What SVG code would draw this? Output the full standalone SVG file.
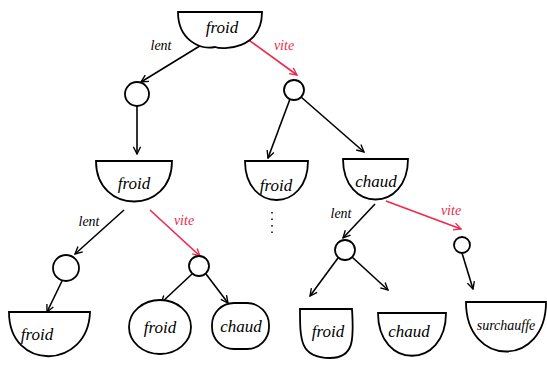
<svg xmlns="http://www.w3.org/2000/svg" width="547" height="366" viewBox="0 0 547 366">
<defs>
<marker id="ab" viewBox="0 0 10 10" refX="9" refY="5" markerWidth="9" markerHeight="9" markerUnits="userSpaceOnUse" orient="auto">
<path d="M1,1 L9,5 L1,9" fill="none" stroke="#000" stroke-width="1.5"/>
</marker>
<marker id="ar" viewBox="0 0 10 10" refX="9" refY="5" markerWidth="9" markerHeight="9" markerUnits="userSpaceOnUse" orient="auto">
<path d="M1,1 L9,5 L1,9" fill="none" stroke="#f0284a" stroke-width="1.5"/>
</marker>
</defs>
<style>
.n{fill:#fff;stroke:#000;stroke-width:1.8}
.t{font-family:"Liberation Serif",serif;font-style:italic;font-size:17px;fill:#000;text-anchor:middle}
.l{font-family:"Liberation Serif",serif;font-style:italic;font-size:14px;fill:#000;text-anchor:middle}
.lr{font-family:"Liberation Serif",serif;font-style:italic;font-size:14px;fill:#f0284a;text-anchor:middle}
.e{fill:none;stroke:#000;stroke-width:1.6;marker-end:url(#ab)}
.er{fill:none;stroke:#f0284a;stroke-width:1.6;marker-end:url(#ar)}
</style>
<rect width="547" height="366" fill="#fff"/>
<g id="connectors">
<path class="e" d="M203,44 L141,82"/>
<path class="er" d="M246,38 L297,75"/>
<path class="e" d="M137,106 L137,154"/>
<path class="e" d="M290,99 L268,158"/>
<path class="e" d="M301,97 L364,152"/>
<path class="e" d="M124,210 L75,254"/>
<path class="er" d="M150,210 L200,256"/>
<path class="e" d="M375,204 L343,238"/>
<path class="er" d="M386,201 L461,229"/>
<path class="e" d="M62,281 L47,312"/>
<path class="e" d="M192,274 L161,303"/>
<path class="e" d="M206,274 L228,303"/>
<path class="e" d="M338,258 L310,296"/>
<path class="e" d="M352,257 L388,290"/>
<path class="e" d="M462,253 L473,289"/>
<path d="M272,212 V235" stroke="#000" stroke-width="1.5" stroke-dasharray="1.5,5" fill="none"/>
</g>
<g id="lbl">
<text class="l" x="161" y="50">lent</text>
<text class="lr" x="284" y="50">vite</text>
<text class="l" x="89" y="226">lent</text>
<text class="lr" x="184" y="225">vite</text>
<text class="l" x="341" y="218">lent</text>
<text class="lr" x="451" y="215">vite</text>
</g>
<g id="root"><path class="n" d="M178,12 H262 C262,50 222,50 215,47 C200,50 178,40 178,12 Z"/><text class="t" x="222" y="33">froid</text></g>
<g id="c1"><circle class="n" cx="137" cy="94" r="12"/></g>
<g id="c2"><circle class="n" cx="294" cy="90" r="10"/></g>
<g id="n_froid_l"><path class="n" d="M96,161 H172 C172,215 96,215 96,161 Z"/><text class="t" x="134" y="189">froid</text></g>
<g id="n_froid_m"><path class="n" d="M245,161 H308 C308,213 245,213 245,161 Z"/><text class="t" x="276" y="191">froid</text></g>
<g id="n_chaud_m"><path class="n" d="M343,159 H408 C408,213 343,213 343,159 Z"/><text class="t" x="376" y="187">chaud</text></g>
<g id="c3"><circle class="n" cx="66" cy="268" r="13"/></g>
<g id="c4"><circle class="n" cx="199" cy="266" r="10"/></g>
<g id="c5"><circle class="n" cx="345" cy="250" r="10"/></g>
<g id="c6"><circle class="n" cx="462" cy="245" r="8"/></g>
<g id="b1"><path class="n" d="M9,312 H90 C88,370 9,372 9,312 Z"/><text class="t" x="37" y="340">froid</text></g>
<g id="b2"><ellipse class="n" cx="160" cy="327" rx="31" ry="27"/><text class="t" x="160" y="333">froid</text></g>
<g id="b3"><rect class="n" x="212" y="303" width="57" height="46" rx="22"/><text class="t" x="241" y="332">chaud</text></g>
<g id="b4"><path class="n" d="M300,309 H352 C354,340 354,358 330,358 C300,358 300,340 300,309 Z"/><text class="t" x="328" y="337">froid</text></g>
<g id="b5"><path class="n" d="M378,313 H446 C446,370 378,370 378,313 Z"/><text class="t" x="409" y="337">chaud</text></g>
<g id="b6"><path class="n" d="M466,302 H546 C546,368 466,368 466,302 Z"/><text class="t" x="506" y="330" style="font-size:14px">surchauffe</text></g>
</svg>
